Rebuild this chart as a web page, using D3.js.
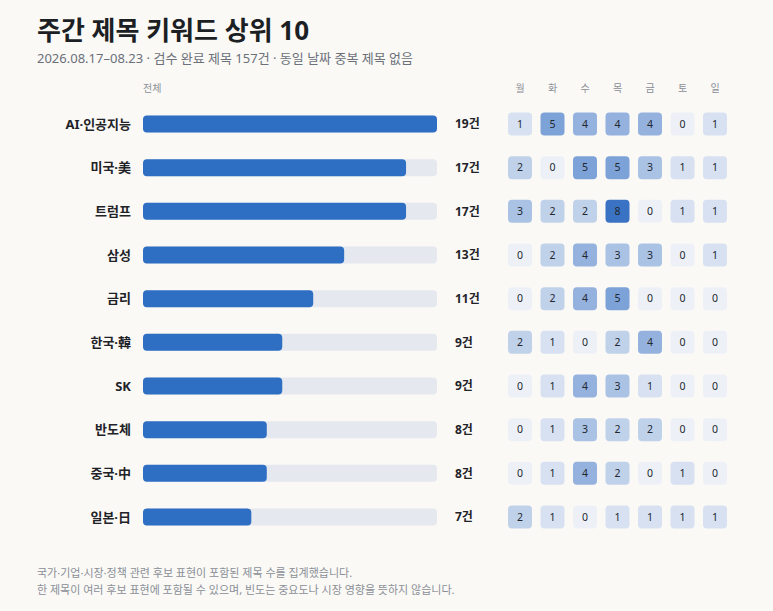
<!DOCTYPE html>
<html>
<head>
<meta charset="utf-8">
<script src="https://cdn.jsdelivr.net/npm/d3@7"></script>
<style>
  html, body { margin: 0; padding: 0; background: #faf9f6; }
  text { font-family: "Noto Sans", "Noto Sans CJK KR", sans-serif; }
</style>
</head>
<body>
<script>
var w = 773;
var h = 611;

var keywords = ["AI·인공지능", "미국·美", "트럼프", "삼성", "금리", "한국·韓", "SK", "반도체", "중국·中", "일본·日"];
var totals = [19, 17, 17, 13, 11, 9, 9, 8, 8, 7];
var days = ["월", "화", "수", "목", "금", "토", "일"];
var daily = [
  [1, 5, 4, 4, 4, 0, 1],
  [2, 0, 5, 5, 3, 1, 1],
  [3, 2, 2, 8, 0, 1, 1],
  [0, 2, 4, 3, 3, 0, 1],
  [0, 2, 4, 5, 0, 0, 0],
  [2, 1, 0, 2, 4, 0, 0],
  [0, 1, 4, 3, 1, 0, 0],
  [0, 1, 3, 2, 2, 0, 0],
  [0, 1, 4, 2, 0, 1, 0],
  [2, 1, 0, 1, 1, 1, 1]
];

var svg = d3.select("body")
  .append("svg")
  .attr("width", w)
  .attr("height", h);

// titles
svg.append("text")
  .attr("x", 37).attr("y", 40)
  .attr("font-size", 26).attr("font-weight", 700)
  .attr("fill", "#1c1f24")
  .text("주간 제목 키워드 상위 10");

svg.append("text")
  .attr("x", 37).attr("y", 63)
  .attr("font-size", 13)
  .attr("fill", "#6b7079")
  .text("2026.08.17–08.23 · 검수 완료 제목 157건 · 동일 날짜 중복 제목 없음");

var yScale = d3.scaleBand()
  .domain(d3.range(keywords.length))
  .range([102.2, 538.8]);

var xScale = d3.scaleLinear()
  .domain([0, d3.max(totals)])
  .range([143, 437]);

var dayScale = d3.scaleBand()
  .domain(days)
  .range([503.75, 731.25]);

var color = d3.scaleLinear()
  .domain([0, 8])
  .range(["#edf1f7", "#3a73c3"]);

var barH = 17;

svg.append("text")
  .attr("x", 143).attr("y", 92)
  .attr("font-size", 10).attr("fill", "#8a8f97")
  .text("전체");

svg.selectAll("text.day")
  .data(days)
  .enter()
  .append("text")
  .attr("class", "day")
  .attr("x", function(d) { return dayScale(d) + dayScale.bandwidth() / 2; })
  .attr("y", 92)
  .attr("text-anchor", "middle")
  .attr("font-size", 10).attr("fill", "#8a8f97")
  .text(function(d) { return d; });

var rows = svg.selectAll("g.row")
  .data(keywords)
  .enter()
  .append("g")
  .attr("class", "row")
  .attr("transform", function(d, i) {
    return "translate(0," + (yScale(i) + yScale.bandwidth() / 2) + ")";
  });

rows.append("text")
  .attr("x", 131).attr("y", 0)
  .attr("dy", "0.35em")
  .attr("text-anchor", "end")
  .attr("font-size", 13).attr("font-weight", 700)
  .attr("fill", "#1f2328")
  .text(function(d) { return d; });

rows.append("rect")
  .attr("x", xScale(0))
  .attr("y", -barH / 2)
  .attr("width", xScale.range()[1] - xScale(0))
  .attr("height", barH)
  .attr("rx", 4)
  .attr("fill", "#e5e8ee");

rows.append("rect")
  .attr("x", xScale(0))
  .attr("y", -barH / 2)
  .attr("width", function(d, i) { return xScale(totals[i]) - xScale(0); })
  .attr("height", barH)
  .attr("rx", 4)
  .attr("fill", "#2f6fc3");

rows.append("text")
  .attr("x", 455).attr("y", 0)
  .attr("dy", "0.35em")
  .attr("font-size", 12).attr("font-weight", 700)
  .attr("fill", "#1f2328")
  .text(function(d, i) { return totals[i] + "건"; });

var cells = rows.selectAll("g.cell")
  .data(function(d, i) { return daily[i]; })
  .enter()
  .append("g")
  .attr("class", "cell")
  .attr("transform", function(d, j) {
    return "translate(" + (dayScale(days[j]) + dayScale.bandwidth() / 2) + ",0)";
  });

cells.append("rect")
  .attr("x", -12).attr("y", -11.5)
  .attr("width", 24).attr("height", 23)
  .attr("rx", 4)
  .attr("fill", function(d) { return color(d); });

cells.append("text")
  .attr("text-anchor", "middle")
  .attr("dy", "0.35em")
  .attr("font-size", 10.5)
  .attr("fill", "#23272e")
  .text(function(d) { return d; });

svg.append("text")
  .attr("x", 37).attr("y", 577)
  .attr("font-size", 11).attr("fill", "#8a8f97")
  .text("국가·기업·시장·정책 관련 후보 표현이 포함된 제목 수를 집계했습니다.");

svg.append("text")
  .attr("x", 37).attr("y", 594)
  .attr("font-size", 11).attr("fill", "#8a8f97")
  .text("한 제목이 여러 후보 표현에 포함될 수 있으며, 빈도는 중요도나 시장 영향을 뜻하지 않습니다.");
</script>
</body>
</html>
